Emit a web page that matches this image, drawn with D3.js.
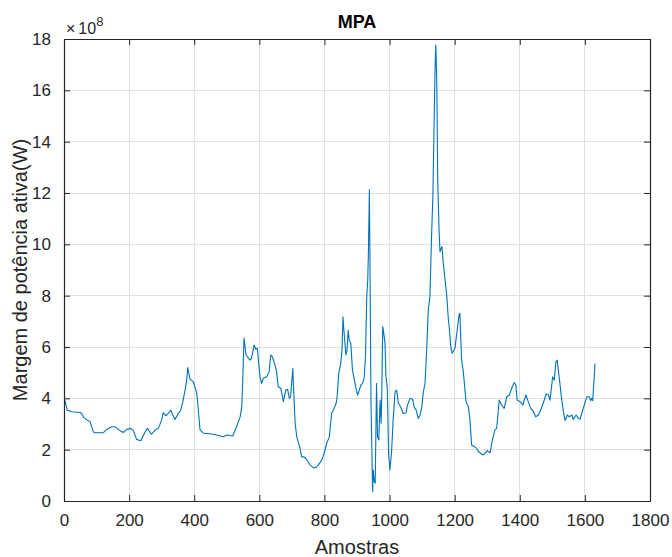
<!DOCTYPE html>
<html>
<head>
<meta charset="utf-8">
<script src="https://cdn.jsdelivr.net/npm/d3@7/dist/d3.min.js"></script>
<style>
  html, body { margin: 0; padding: 0; background: #fff; }
  svg { display: block; font-family: "Liberation Sans", Arial, Helvetica, sans-serif; }
</style>
</head>
<body>
<svg id="chart" width="672" height="557"></svg>
<script>
// Sample index along the record
const sampleIndex = [
  3, 10, 24, 49, 54, 61, 70, 80, 90, 95,
  121, 131, 147, 157, 172, 182, 193, 205, 213, 223,
  236, 244, 256, 269, 280, 290, 300, 305, 313, 320,
  328, 334, 341, 351, 358, 366, 372, 377, 380, 387,
  397, 402, 408, 418, 428, 448, 469, 489, 500, 518,
  530, 541, 546, 549, 553, 559, 571, 576, 584, 589,
  594, 597, 602, 607, 612, 623, 630, 635, 640, 648,
  653, 658, 666, 674, 681, 687, 692, 696, 700, 703,
  704, 710, 715, 725, 730, 740, 746, 756, 766, 774,
  781, 792, 799, 807, 815, 822, 827, 836, 839, 844,
  850, 854, 857, 859, 863, 866, 869, 873, 876, 881,
  886, 891, 897, 902, 907, 912, 917, 922, 926, 930,
  933, 935, 938, 940, 943, 948, 950, 953, 956, 960,
  963, 967, 971, 974, 976, 979, 981, 986, 989, 993,
  997, 1001, 1006, 1011, 1017, 1022, 1027, 1034, 1042, 1051,
  1055, 1063, 1071, 1076, 1081, 1088, 1094, 1099, 1104, 1109,
  1114, 1119, 1124, 1129, 1133, 1140, 1142, 1145, 1148, 1152,
  1155, 1158, 1161, 1165, 1170, 1176, 1180, 1184, 1188, 1192,
  1198, 1201, 1204, 1209, 1214, 1216, 1221, 1227, 1235, 1239,
  1242, 1247, 1252, 1257, 1268, 1273, 1278, 1286, 1293, 1300,
  1309, 1314, 1318, 1324, 1329, 1337, 1344, 1352, 1360, 1368,
  1377, 1383, 1388, 1392, 1401, 1409, 1419, 1426, 1434, 1442,
  1449, 1457, 1462, 1472, 1481, 1488, 1493, 1501, 1506, 1511,
  1515, 1522, 1529, 1534, 1539, 1546, 1552, 1560, 1564, 1573,
  1580, 1585, 1595, 1606, 1614, 1618, 1621, 1624, 1628, 1631
];

// Active power margin, in units of 1e8 W
const powerMarginE8 = [
  3.91, 3.54, 3.48, 3.45, 3.41, 3.25, 3.16, 3.09, 2.70, 2.66,
  2.66, 2.79, 2.89, 2.89, 2.74, 2.67, 2.79, 2.83, 2.74, 2.40,
  2.35, 2.57, 2.83, 2.60, 2.77, 2.83, 3.16, 3.44, 3.32, 3.41,
  3.54, 3.35, 3.18, 3.41, 3.51, 3.93, 4.32, 4.71, 5.20, 4.75,
  4.65, 4.45, 4.19, 2.77, 2.64, 2.62, 2.57, 2.50, 2.57, 2.53,
  2.89, 3.28, 3.67, 4.71, 6.35, 5.70, 5.49, 5.56, 6.08, 5.91,
  5.95, 5.49, 4.84, 4.58, 4.78, 4.84, 5.04, 5.69, 5.62, 5.30,
  5.04, 4.45, 4.39, 3.87, 4.32, 4.35, 4.00, 4.06, 4.71, 5.17,
  4.71, 3.03, 2.50, 2.05, 1.73, 1.70, 1.60, 1.40, 1.30, 1.30,
  1.40, 1.60, 1.86, 2.25, 2.50, 3.41, 3.54, 3.81, 4.06, 4.97,
  5.36, 5.88, 7.18, 6.79, 6.14, 5.69, 5.82, 6.66, 6.27, 6.14,
  5.10, 4.78, 4.39, 4.13, 4.32, 4.52, 4.58, 4.78, 5.62, 7.96,
  8.61, 9.65, 12.12, 9.00, 3.81, 0.36, 1.21, 0.75, 0.69, 4.58,
  2.50, 2.38, 3.93, 3.03, 4.06, 6.79, 6.66, 6.14, 4.84, 4.45,
  1.86, 1.21, 1.86, 3.16, 4.26, 4.32, 3.81, 3.67, 3.41, 3.44,
  3.74, 4.00, 3.96, 3.65, 3.57, 3.22, 3.35, 3.67, 4.26, 4.58,
  5.88, 7.44, 7.96, 10.30, 11.85, 17.00, 17.76, 16.40, 12.50, 10.56,
  9.71, 9.84, 9.91, 9.26, 8.68, 7.96, 7.18, 6.66, 6.01, 5.75,
  5.88, 5.95, 6.27, 6.79, 7.28, 7.31, 5.56, 4.97, 3.87, 3.74,
  3.67, 3.16, 2.18, 2.14, 2.05, 1.92, 1.88, 1.79, 1.86, 1.96,
  1.88, 2.25, 2.50, 2.77, 2.83, 3.93, 3.74, 3.61, 4.06, 4.13,
  4.45, 4.61, 4.52, 3.93, 3.87, 3.74, 4.13, 3.87, 3.61, 3.48,
  3.28, 3.35, 3.48, 3.81, 4.17, 4.13, 3.93, 4.84, 4.71, 5.43,
  5.49, 4.71, 3.93, 3.48, 3.13, 3.35, 3.28, 3.35, 3.18, 3.35,
  3.22, 3.18, 3.61, 4.06, 4.06, 3.91, 4.00, 3.91, 4.71, 5.36
];

const xTicks = [0, 200, 400, 600, 800, 1000, 1200, 1400, 1600, 1800];
const yTicks = [0, 2, 4, 6, 8, 10, 12, 14, 16, 18];

const titleText = "MPA";
const xLabelText = "Amostras";
const yLabelText = "Margem de potência ativa(W)";

const svg = d3.select("#chart");
const plot = { left: 64, right: 650, top: 39, bottom: 501 };
const axisColor = "#262626";
const gridColor = "#dfdfdf";
const tickLen = 6;

const x = d3.scaleLinear().domain([0, 1800]).range([plot.left, plot.right]);
const y = d3.scaleLinear().domain([0, 18]).range([plot.bottom, plot.top]);

// Grid
const grid = svg.append("g");
grid.selectAll("line.gx").data(xTicks.slice(1, -1)).join("line")
  .attr("x1", d => x(d)).attr("x2", d => x(d))
  .attr("y1", plot.top).attr("y2", plot.bottom)
  .attr("stroke", gridColor).attr("stroke-width", 1).attr("shape-rendering", "crispEdges");
grid.selectAll("line.gy").data(yTicks.slice(1, -1)).join("line")
  .attr("y1", d => y(d)).attr("y2", d => y(d))
  .attr("x1", plot.left).attr("x2", plot.right)
  .attr("stroke", gridColor).attr("stroke-width", 1).attr("shape-rendering", "crispEdges");

// Data line
const pts = sampleIndex.map((s, i) => [s, powerMarginE8[i]]);
svg.append("path")
  .datum(pts)
  .attr("fill", "none")
  .attr("stroke", "#0072BD")
  .attr("stroke-width", 1.1)
  .attr("stroke-linejoin", "round")
  .attr("d", d3.line().x(d => x(d[0])).y(d => y(d[1])));

// Axes (box with inward ticks)
const fontTick = 17;
const fmt = d3.format("d");
const xAxisB = d3.axisBottom(x).tickValues(xTicks).tickFormat(fmt).tickSizeInner(-tickLen).tickSizeOuter(0).tickPadding(13);
const xAxisT = d3.axisTop(x).tickValues(xTicks).tickSizeInner(-tickLen).tickSizeOuter(0).tickFormat("");
const yAxisL = d3.axisLeft(y).tickValues(yTicks).tickFormat(fmt).tickSizeInner(-tickLen).tickSizeOuter(0).tickPadding(13);
const yAxisR = d3.axisRight(y).tickValues(yTicks).tickSizeInner(-tickLen).tickSizeOuter(0).tickFormat("");

function styleAxis(g) {
  g.selectAll("path.domain").attr("stroke", axisColor).attr("stroke-width", 1.2);
  g.selectAll(".tick line").attr("stroke", axisColor).attr("stroke-width", 1);
  g.selectAll(".tick text").attr("fill", axisColor)
    .style("font-size", fontTick + "px")
    .style("font-family", "'Liberation Sans', Arial, sans-serif");
}

svg.append("g").attr("transform", `translate(0,${plot.bottom})`).call(xAxisB).call(styleAxis)
  .selectAll(".tick text").attr("dy", "0.71em");
svg.append("g").attr("transform", `translate(0,${plot.top})`).call(xAxisT).call(styleAxis);
svg.append("g").attr("transform", `translate(${plot.left},0)`).call(yAxisL).call(styleAxis);
svg.append("g").attr("transform", `translate(${plot.right},0)`).call(yAxisR).call(styleAxis);

// Exponent marker
const expo = svg.append("text")
  .attr("x", 66).attr("y", 34)
  .attr("fill", axisColor)
  .style("font-size", "16px");
expo.append("tspan").text("×");
expo.append("tspan").attr("dx", 3).text("10");
expo.append("tspan").attr("dy", -8).style("font-size", "13px").text("8");

// Title
svg.append("text")
  .attr("x", (plot.left + plot.right) / 2).attr("y", 28)
  .attr("text-anchor", "middle")
  .attr("fill", "#000")
  .style("font-size", "18px").style("font-weight", "bold")
  .text(titleText);

// Axis labels
svg.append("text")
  .attr("x", (plot.left + plot.right) / 2).attr("y", 554)
  .attr("text-anchor", "middle")
  .attr("fill", axisColor)
  .style("font-size", "20px")
  .text(xLabelText);

svg.append("text")
  .attr("transform", `translate(27,${(plot.top + plot.bottom) / 2}) rotate(-90)`)
  .attr("text-anchor", "middle")
  .attr("fill", axisColor)
  .style("font-size", "20px")
  .text(yLabelText);
</script>
</body>
</html>
